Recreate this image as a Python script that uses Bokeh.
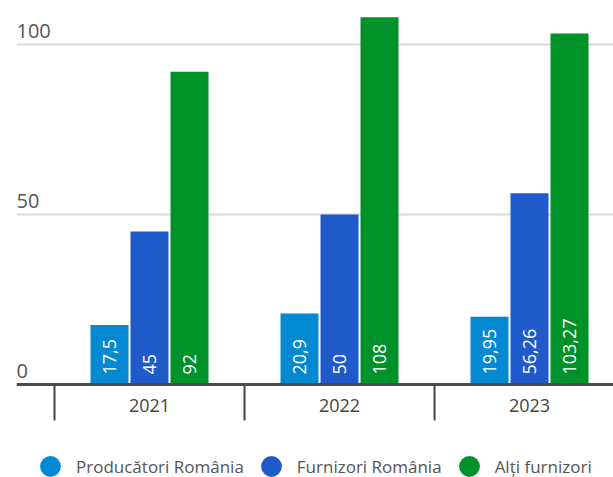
import numpy as np
from bokeh.plotting import figure
from bokeh.models import ColumnDataSource, FixedTicker, Range1d, Legend, LegendItem, Span
from bokeh.core.properties import value
from bokeh.embed import file_html
from bokeh.resources import INLINE

years = ["2021", "2022", "2023"]
producatori = [17.5, 20.9, 19.95]
furnizori = [45, 50, 56.26]
alti = [92, 108, 103.27]
series_names = ["Producători România", "Furnizori România", "Alți furnizori"]
colors = ["#0388d2", "#1f5acb", "#00922a"]
y_ticks = [0, 50, 100]

FONT = "Open Sans"
Y0, Y1 = -27.35, 110.6
FRAME_H = 469
px_per_unit = FRAME_H / (Y1 - Y0)

p = figure(frame_width=597, frame_height=FRAME_H, output_backend="svg", toolbar_location=None,
           x_range=Range1d(-0.7, 2.442), y_range=Range1d(Y0, Y1),
           min_border_left=16, min_border_right=0, min_border_top=8, min_border_bottom=0)
p.outline_line_color = None
p.xaxis.visible = False
p.yaxis.visible = False
p.xgrid.visible = False
p.ygrid.ticker = FixedTicker(ticks=[50, 100])
p.ygrid.grid_line_color = "#d9d9d9"
p.ygrid.grid_line_width = 2

idx = np.arange(len(years))
offsets = [-0.2105, 0.0, 0.2105]
bar_w = 0.2
renderers = []
for vals, off, col in zip([producatori, furnizori, alti], offsets, colors):
    src = ColumnDataSource(dict(x=idx + off, top=vals,
                                lab=[f"{v:g}".replace(".", ",") for v in vals]))
    p.vbar(x="x", top="top", bottom=0, width=bar_w, source=src,
           fill_color=col, line_color=None)
    p.text(x="x", y=0, text="lab", source=src, angle=np.pi / 2,
           text_align="left", text_baseline="middle", y_offset=-10,
           text_color="white", text_font=value(FONT), text_font_size="18px")
    r = p.scatter(x="x", y="top", source=src, size=21, marker="circle",
                  fill_color=col, line_color=None, visible=False)
    renderers.append(r)

# category axis: base line, separators, year labels
p.add_layout(Span(location=0, dimension="width", line_color="#4a4a4a", line_width=3))
seps = idx - 0.5
sep_depth = 36 / px_per_unit
p.segment(x0=seps, y0=np.zeros(len(seps)), x1=seps, y1=-sep_depth * np.ones(len(seps)),
          line_color="#444444", line_width=2)
p.text(x=idx, y=np.zeros(len(idx)), text=years, y_offset=21,
       text_align="center", text_baseline="middle", text_color="#444444",
       text_font=value(FONT), text_font_size="18px")

tsrc = ColumnDataSource(dict(x=[-0.7] * len(y_ticks), y=y_ticks, t=[str(v) for v in y_ticks]))
p.text(x="x", y="y", text="t", source=tsrc, x_offset=0, y_offset=-7,
       text_align="left", text_baseline="bottom", text_color="#555555",
       text_font=value(FONT), text_font_size="20px")

legend = Legend(items=[LegendItem(label=n, renderers=[r]) for n, r in zip(series_names, renderers)],
                orientation="horizontal", location=(8, -15),
                label_text_font=FONT, label_text_font_size="17px", label_text_color="#555555",
                glyph_width=52, glyph_height=52, label_standoff=-2, spacing=1,
                inactive_fill_alpha=0,
                border_line_color=None, background_fill_alpha=0, padding=0, margin=0)
p.add_layout(legend)

open("out.html", "w").write(file_html(p, INLINE))
